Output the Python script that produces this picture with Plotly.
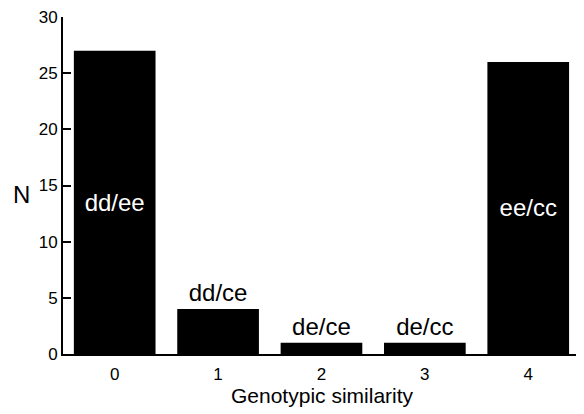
import plotly.graph_objects as go

categories = [0, 1, 2, 3, 4]
counts = [27, 4, 1, 1, 26]
labels = ["dd/ee", "dd/ce", "de/ce", "de/cc", "ee/cc"]
label_positions = ["inside", "outside", "outside", "outside", "inside"]
label_colors = ["white", "black", "black", "black", "white"]
y_ticks = [0, 5, 10, 15, 20, 25, 30]

FONT = "Liberation Sans, Arial, sans-serif"

fig = go.Figure()
fig.add_trace(go.Bar(
    x=categories,
    y=counts,
    text=labels,
    textposition=label_positions,
    insidetextanchor="middle",
    textangle=0,
    constraintext="none",
    textfont=dict(family=FONT, size=24, color=label_colors),
    marker=dict(color="black", line=dict(width=0)),
    width=0.79,
    cliponaxis=False,
))

fig.update_layout(
    width=576,
    height=406,
    margin=dict(l=55, r=2, t=9, b=60),
    plot_bgcolor="white",
    paper_bgcolor="white",
    showlegend=False,
    font=dict(family=FONT, color="black"),
    xaxis=dict(
        range=[-0.5, 4.52],
        tickmode="array",
        tickvals=categories,
        ticktext=[str(c) for c in categories],
        ticks="outside",
        ticklen=4,
        tickcolor="rgba(0,0,0,0)",
        tickfont=dict(size=17, family=FONT),
        showline=True,
        linecolor="black",
        linewidth=2,
        showgrid=False,
        zeroline=False,
    ),
    yaxis=dict(
        range=[0, 30],
        tickmode="array",
        tickvals=y_ticks,
        ticks="inside",
        ticklen=8,
        tickwidth=2,
        tickcolor="black",
        tickfont=dict(size=17, family=FONT),
        ticklabeloverflow="allow",
        automargin=False,
        showline=True,
        linecolor="black",
        linewidth=2,
        showgrid=False,
        zeroline=False,
    ),
    annotations=[
        dict(
            text="N", xref="paper", yref="paper", x=-0.079, y=0.472,
            showarrow=False, font=dict(size=24, family=FONT, color="black"),
            xanchor="center", yanchor="middle",
        ),
        dict(
            text="Genotypic similarity", xref="paper", yref="paper", x=0.5, y=0,
            yshift=-41, showarrow=False,
            font=dict(size=21, family=FONT, color="black"),
            xanchor="center", yanchor="middle",
        ),
    ],
)

fig.write_html("out.html")
